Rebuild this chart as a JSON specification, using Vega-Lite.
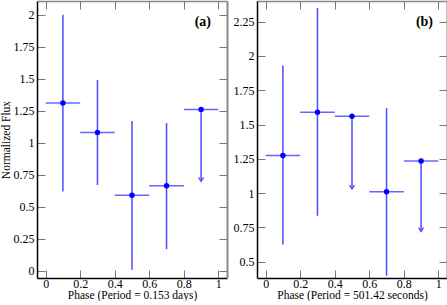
{
  "$schema": "https://vega.github.io/schema/vega-lite/v6.json",
  "padding": {"left": 0, "top": 0, "right": 0, "bottom": 0},
  "spacing": 30,
  "bounds": "flush",
  "datasets": {
    "a": [
      {"phase": 0.1, "plo": 0.0, "phi": 0.2, "flux": 1.31, "lo": 0.62, "hi": 2.0, "limit": false},
      {"phase": 0.3, "plo": 0.2, "phi": 0.4, "flux": 1.08, "lo": 0.67, "hi": 1.49, "limit": false},
      {"phase": 0.5, "plo": 0.4, "phi": 0.6, "flux": 0.59, "lo": 0.01, "hi": 1.17, "limit": false},
      {"phase": 0.7, "plo": 0.6, "phi": 0.8, "flux": 0.665, "lo": 0.17, "hi": 1.155, "limit": false},
      {"phase": 0.9, "plo": 0.8, "phi": 1.0, "flux": 1.26, "lo": 0.7, "hi": 1.26, "limit": true}
    ],
    "b": [
      {"phase": 0.1, "plo": 0.0, "phi": 0.2, "flux": 1.275, "lo": 0.625, "hi": 1.93, "limit": false},
      {"phase": 0.3, "plo": 0.2, "phi": 0.4, "flux": 1.59, "lo": 0.835, "hi": 2.35, "limit": false},
      {"phase": 0.5, "plo": 0.4, "phi": 0.6, "flux": 1.56, "lo": 1.03, "hi": 1.56, "limit": true},
      {"phase": 0.7, "plo": 0.6, "phi": 0.8, "flux": 1.01, "lo": 0.398, "hi": 1.62, "limit": false},
      {"phase": 0.9, "plo": 0.8, "phi": 1.0, "flux": 1.235, "lo": 0.72, "hi": 1.235, "limit": true}
    ]
  },
  "hconcat": [
    {
      "width": 190,
      "height": 277,
      "data": {"name": "a"},
      "title": {"text": "(a)", "orient": "top", "anchor": "end", "frame": "group", "font": "Liberation Serif, Times New Roman, serif", "fontSize": 14, "fontWeight": "bold", "color": "#000", "baseline": "top", "offset": -28, "dx": -16},
      "resolve": {"axis": {"x": "independent", "y": "independent"}},
      "layer": [
        {
          "mark": {"type": "rule", "color": "#6666ff", "strokeWidth": 1.5},
          "encoding": {
            "x": {"field": "plo", "type": "quantitative", "scale": {"domain": [-0.05, 1.05], "nice": false, "zero": false},
              "axis": {"orient": "bottom", "values": [0, 0.2, 0.4, 0.6, 0.8, 1], "labelExpr": "datum.value + ''", "title": "Phase (Period = 0.153 days)"}},
            "x2": {"field": "phi"},
            "y": {"field": "flux", "type": "quantitative", "scale": {"domain": [-0.055, 2.107], "nice": false, "zero": false},
              "axis": {"orient": "left", "values": [0, 0.25, 0.5, 0.75, 1, 1.25, 1.5, 1.75, 2], "labelExpr": "datum.value + ''", "title": "Normalized Flux"}}
          }
        },
        {
          "mark": {"type": "rule", "color": "#4d4dff", "strokeWidth": 1.5},
          "encoding": {
            "x": {"field": "phase", "type": "quantitative", "scale": {"domain": [-0.05, 1.05], "nice": false, "zero": false},
              "axis": {"orient": "top", "values": [0, 0.2, 0.4, 0.6, 0.8, 1], "labels": false, "title": null, "domainColor": "#888", "minExtent": 0, "maxExtent": 0}},
            "y": {"field": "lo", "type": "quantitative", "scale": {"domain": [-0.055, 2.107], "nice": false, "zero": false},
              "axis": {"orient": "right", "values": [0, 0.25, 0.5, 0.75, 1, 1.25, 1.5, 1.75, 2], "labels": false, "title": null, "domainColor": "#888", "domainWidth": 2, "minExtent": 0, "maxExtent": 0}},
            "y2": {"field": "hi"}
          }
        },
        {
          "transform": [{"filter": "datum.limit"}],
          "mark": {"type": "point", "shape": "M-0.9,-1.4L0,0L0.9,-1.4", "filled": false, "color": "#4d4dff", "strokeWidth": 1.3, "size": 30, "opacity": 1},
          "encoding": {
            "x": {"field": "phase", "type": "quantitative", "axis": null, "scale": {"domain": [-0.05, 1.05], "nice": false, "zero": false}},
            "y": {"field": "lo", "type": "quantitative", "axis": null, "scale": {"domain": [-0.055, 2.107], "nice": false, "zero": false}}
          }
        },
        {
          "mark": {"type": "point", "filled": true, "color": "#0000ff", "size": 30, "opacity": 1},
          "encoding": {
            "x": {"field": "phase", "type": "quantitative", "axis": null, "scale": {"domain": [-0.05, 1.05], "nice": false, "zero": false}},
            "y": {"field": "flux", "type": "quantitative", "axis": null, "scale": {"domain": [-0.055, 2.107], "nice": false, "zero": false}}
          }
        }
      ]
    },
    {
      "width": 190,
      "height": 277,
      "data": {"name": "b"},
      "title": {"text": "(b)", "orient": "top", "anchor": "end", "frame": "group", "font": "Liberation Serif, Times New Roman, serif", "fontSize": 14, "fontWeight": "bold", "color": "#000", "baseline": "top", "offset": -28, "dx": -14},
      "resolve": {"axis": {"x": "independent", "y": "independent"}},
      "layer": [
        {
          "mark": {"type": "rule", "color": "#6666ff", "strokeWidth": 1.5},
          "encoding": {
            "x": {"field": "plo", "type": "quantitative", "scale": {"domain": [-0.05, 1.05], "nice": false, "zero": false},
              "axis": {"orient": "bottom", "values": [0, 0.2, 0.4, 0.6, 0.8, 1], "labelExpr": "datum.value + ''", "title": "Phase (Period = 501.42 seconds)"}},
            "x2": {"field": "phi"},
            "y": {"field": "flux", "type": "quantitative", "scale": {"domain": [0.381, 2.401], "nice": false, "zero": false},
              "axis": {"orient": "left", "values": [0.5, 0.75, 1, 1.25, 1.5, 1.75, 2, 2.25], "labelExpr": "datum.value + ''", "title": null}}
          }
        },
        {
          "mark": {"type": "rule", "color": "#4d4dff", "strokeWidth": 1.5},
          "encoding": {
            "x": {"field": "phase", "type": "quantitative", "scale": {"domain": [-0.05, 1.05], "nice": false, "zero": false},
              "axis": {"orient": "top", "values": [0, 0.2, 0.4, 0.6, 0.8, 1], "labels": false, "title": null, "domainColor": "#888", "minExtent": 0, "maxExtent": 0}},
            "y": {"field": "lo", "type": "quantitative", "scale": {"domain": [0.381, 2.401], "nice": false, "zero": false},
              "axis": {"orient": "right", "values": [0.5, 0.75, 1, 1.25, 1.5, 1.75, 2, 2.25], "labels": false, "title": null, "domainColor": "#888", "domainWidth": 2, "minExtent": 0, "maxExtent": 0}},
            "y2": {"field": "hi"}
          }
        },
        {
          "transform": [{"filter": "datum.limit"}],
          "mark": {"type": "point", "shape": "M-0.9,-1.4L0,0L0.9,-1.4", "filled": false, "color": "#4d4dff", "strokeWidth": 1.3, "size": 30, "opacity": 1},
          "encoding": {
            "x": {"field": "phase", "type": "quantitative", "axis": null, "scale": {"domain": [-0.05, 1.05], "nice": false, "zero": false}},
            "y": {"field": "lo", "type": "quantitative", "axis": null, "scale": {"domain": [0.381, 2.401], "nice": false, "zero": false}}
          }
        },
        {
          "mark": {"type": "point", "filled": true, "color": "#0000ff", "size": 30, "opacity": 1},
          "encoding": {
            "x": {"field": "phase", "type": "quantitative", "axis": null, "scale": {"domain": [-0.05, 1.05], "nice": false, "zero": false}},
            "y": {"field": "flux", "type": "quantitative", "axis": null, "scale": {"domain": [0.381, 2.401], "nice": false, "zero": false}}
          }
        }
      ]
    }
  ],
  "config": {
    "view": {"stroke": null},
    "font": "Liberation Serif, Times New Roman, serif",
    "axis": {
      "grid": false,
      "tickSize": -8,
      "tickColor": "#777",
      "tickWidth": 1,
      "domainColor": "#000",
      "domainWidth": 1.5,
      "labelFont": "Liberation Serif, Times New Roman, serif",
      "labelFontSize": 12,
      "labelColor": "#000",
      "labelPadding": 8,
      "labelFlush": false,
      "labelOverlap": false,
      "titleFont": "Liberation Serif, Times New Roman, serif",
      "titleFontSize": 11.5,
      "titleFontWeight": "normal",
      "titleColor": "#000",
      "titlePadding": 0
    },
    "axisLeft": {"labelPadding": 11, "titlePadding": 2}
  }
}
